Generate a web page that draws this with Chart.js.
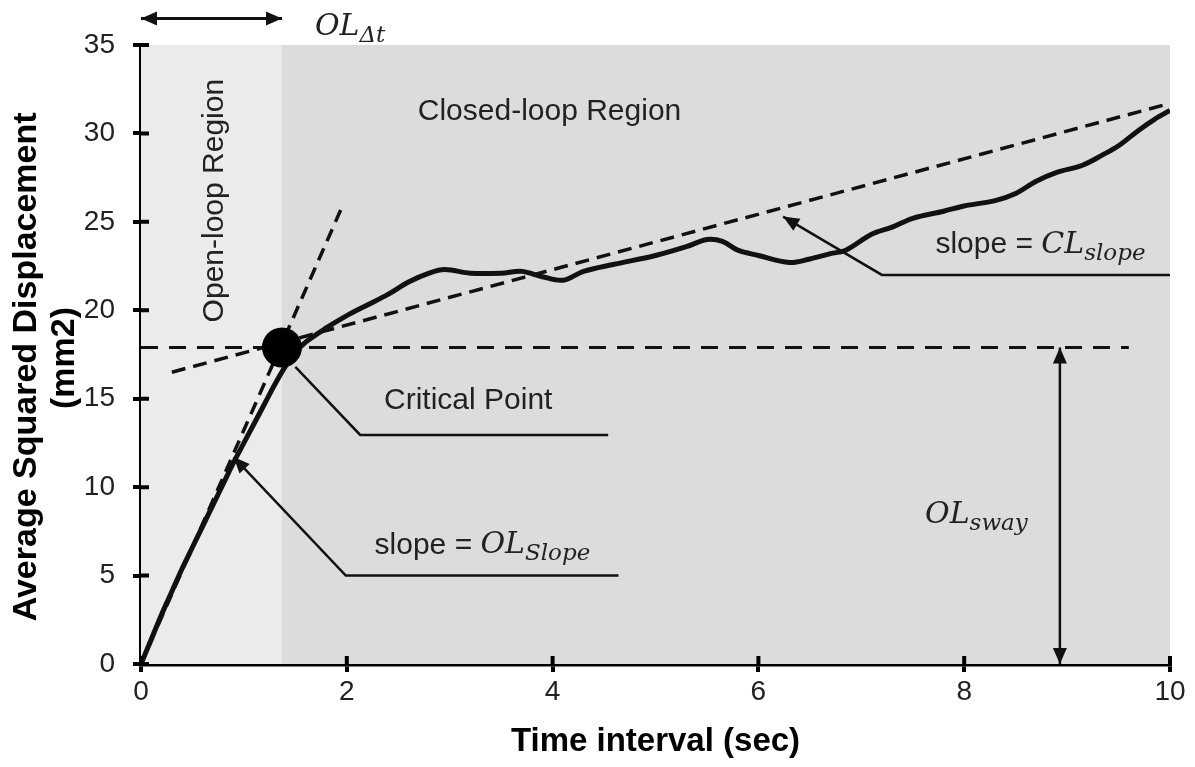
<!DOCTYPE html>
<html>
<head>
<meta charset="utf-8">
<script src="https://cdn.jsdelivr.net/npm/chart.js@4.4.1/dist/chart.umd.min.js"></script>
<style>
  html, body { margin: 0; padding: 0; background: #fff; }
</style>
</head>
<body>
<canvas id="msd-chart" width="1195" height="767"></canvas>
<script>
// average squared displacement curve
const timeSec = [0, 0.1, 0.2, 0.3, 0.4, 0.5, 0.6, 0.7, 0.8, 0.9, 1.0, 1.1, 1.2, 1.3, 1.4, 1.5, 1.6, 1.8,
  2.0, 2.2, 2.4, 2.6, 2.8, 2.95, 3.2, 3.5, 3.7, 3.9, 4.1, 4.3, 4.6, 5.0, 5.3, 5.5, 5.65, 5.8, 6.0, 6.3,
  6.5, 6.7, 6.85, 7.1, 7.3, 7.5, 7.8, 8.0, 8.3, 8.5, 8.7, 8.9, 9.15, 9.35, 9.5, 9.7, 9.85, 10];
const msdValues = [0, 1.4, 2.8, 4.1, 5.4, 6.6, 7.8, 9.0, 10.2, 11.4, 12.5, 13.6, 14.7, 15.8, 16.8, 17.6, 18.2, 19.0,
  19.7, 20.3, 20.9, 21.6, 22.1, 22.3, 22.1, 22.1, 22.2, 21.9, 21.7, 22.2, 22.6, 23.1, 23.6, 24.0, 23.9, 23.4, 23.1, 22.7,
  22.9, 23.2, 23.4, 24.3, 24.7, 25.2, 25.6, 25.9, 26.2, 26.6, 27.3, 27.8, 28.2, 28.8, 29.3, 30.2, 30.8, 31.3];

const xTicks = [0, 2, 4, 6, 8, 10];
const yTicks = [0, 5, 10, 15, 20, 25, 30, 35];

// fitted lines and the critical point
const olSlopeX = [0, 1.95];
const olSlopeY = [0, 25.8];
const clSlopeX = [0.3, 10];
const clSlopeY = [16.5, 31.7];
const swayLevelX = [0, 9.6];
const swayLevelY = [17.9, 17.9];
const criticalX = [1.37];
const criticalY = [17.9];
const openLoopEnd = 1.37;

// leader lines / arrows
const criticalLeaderX = [1.5, 2.13, 4.54];
const criticalLeaderY = [16.8, 12.95, 12.95];
const olLeaderX = [0.9, 1.99, 4.64];
const olLeaderY = [11.7, 5.0, 5.0];
const clLeaderX = [6.24, 7.2, 10];
const clLeaderY = [25.3, 22.0, 22.0];
const swayArrowX = [8.93, 8.93];
const swayArrowY = [0, 17.9];
const dtArrowX = [0, 1.37];
const dtArrowY = [36.5, 36.5];

const pts = (xs, ys) => xs.map((x, i) => ({ x: x, y: ys[i] }));

const INK = "#111";
const TEXT = "#222";
const SANS = "'Liberation Sans', Arial, sans-serif";
const SERIF = "'DejaVu Serif', serif";

function lineSet(xs, ys, width, dash, extra) {
  return Object.assign({
    data: pts(xs, ys),
    showLine: true,
    borderColor: INK,
    borderWidth: width,
    borderDash: dash || [],
    pointRadius: 0,
    fill: false,
    tension: 0,
  }, extra || {});
}

// gray region backgrounds
const regionPlugin = {
  id: "regions",
  beforeDatasetsDraw(chart) {
    const { ctx, scales: { x, y } } = chart;
    const top = y.getPixelForValue(35), bottom = y.getPixelForValue(0);
    const x0 = x.getPixelForValue(0), x1 = x.getPixelForValue(openLoopEnd), x2 = x.getPixelForValue(10);
    ctx.save();
    ctx.fillStyle = "#ebebeb";
    ctx.fillRect(x0, top, x1 - x0, bottom - top);
    ctx.fillStyle = "#dcdcdc";
    ctx.fillRect(x1, top, x2 - x1, bottom - top);
    ctx.restore();
  },
};

// inner half of the tick marks
const innerTicks = {
  id: "innerTicks",
  afterDraw(chart) {
    const { ctx, scales: { x, y } } = chart;
    ctx.save();
    ctx.strokeStyle = "#000";
    ctx.lineWidth = 4;
    ctx.beginPath();
    xTicks.forEach((v) => {
      const px = x.getPixelForValue(v);
      ctx.moveTo(px, y.bottom);
      ctx.lineTo(px, y.bottom - 8);
    });
    yTicks.forEach((v) => {
      const py = y.getPixelForValue(v);
      ctx.moveTo(x.left, py);
      ctx.lineTo(x.left + 8, py);
    });
    ctx.stroke();
    ctx.restore();
  },
};

function arrowHead(ctx, tip, from) {
  const ang = Math.atan2(tip.y - from.y, tip.x - from.x);
  const len = 16, half = 7;
  ctx.beginPath();
  ctx.moveTo(tip.x, tip.y);
  ctx.lineTo(tip.x - len * Math.cos(ang) + half * Math.sin(ang), tip.y - len * Math.sin(ang) - half * Math.cos(ang));
  ctx.lineTo(tip.x - len * Math.cos(ang) - half * Math.sin(ang), tip.y - len * Math.sin(ang) + half * Math.cos(ang));
  ctx.closePath();
  ctx.fill();
}

const arrowPlugin = {
  id: "arrows",
  afterDatasetsDraw(chart) {
    const ctx = chart.ctx;
    ctx.save();
    ctx.fillStyle = INK;
    chart.data.datasets.forEach((ds, i) => {
      if (!ds.arrows) return;
      const el = chart.getDatasetMeta(i).data;
      if (ds.arrows.includes("start")) arrowHead(ctx, el[0], el[1]);
      if (ds.arrows.includes("end")) arrowHead(ctx, el[el.length - 1], el[el.length - 2]);
    });
    ctx.restore();
  },
};

function mathText(ctx, px, py, main, sub) {
  ctx.font = "italic 30px " + SERIF;
  ctx.fillText(main, px, py);
  const w = ctx.measureText(main).width;
  ctx.font = "italic 23px " + SERIF;
  ctx.fillText(sub, px + w, py + 9);
}

const labelPlugin = {
  id: "labels",
  afterDatasetsDraw(chart) {
    const { ctx, scales: { x, y } } = chart;
    const X = (v) => x.getPixelForValue(v), Y = (v) => y.getPixelForValue(v);
    ctx.save();
    ctx.fillStyle = TEXT;
    ctx.textBaseline = "middle";
    ctx.font = "30px " + SANS;

    ctx.textAlign = "center";
    ctx.fillText("Closed-loop Region", X(3.97), Y(31.2));
    ctx.fillText("Critical Point", X(3.18), Y(14.9));

    ctx.save();
    ctx.translate(X(0.72), Y(26.2));
    ctx.rotate(-Math.PI / 2);
    ctx.fillText("Open-loop Region", 0, 0);
    ctx.restore();

    ctx.textAlign = "left";
    ctx.font = "30px " + SANS;
    ctx.fillText("slope = ", X(2.27), Y(6.7));
    let w = ctx.measureText("slope = ").width;
    mathText(ctx, X(2.27) + w, Y(6.7), "OL", "Slope");

    ctx.font = "30px " + SANS;
    ctx.fillText("slope = ", X(7.72), Y(23.7));
    w = ctx.measureText("slope = ").width;
    mathText(ctx, X(7.72) + w, Y(23.7), "CL", "slope");

    mathText(ctx, X(7.62), Y(8.4), "OL", "sway");
    mathText(ctx, X(1.69), Y(36.0), "OL", "\u0394t");
    ctx.restore();
  },
};

// y axis title: two lines, each centred on its own position as in the figure
const yTitlePlugin = {
  id: "yTitle",
  afterDraw(chart) {
    const { ctx, scales: { y } } = chart;
    ctx.save();
    ctx.fillStyle = "#000";
    ctx.font = "bold 34px " + SANS;
    ctx.textAlign = "center";
    ctx.textBaseline = "middle";
    ctx.translate(27, y.getPixelForValue(16.8));
    ctx.rotate(-Math.PI / 2);
    ctx.fillText("Average Squared Displacement", 0, 0);
    ctx.restore();
    ctx.save();
    ctx.fillStyle = "#000";
    ctx.font = "bold 34px " + SANS;
    ctx.textAlign = "center";
    ctx.textBaseline = "middle";
    ctx.translate(65, y.getPixelForValue(17.3));
    ctx.rotate(-Math.PI / 2);
    ctx.fillText("(mm2)", 0, 0);
    ctx.restore();
  },
};

new Chart(document.getElementById("msd-chart"), {
  type: "scatter",
  data: {
    datasets: [
      lineSet(criticalX, criticalY, 0, null, { showLine: false, pointRadius: 20, pointBackgroundColor: "#000", pointBorderWidth: 0 }),
      lineSet(timeSec, msdValues, 5, null, { tension: 0.35 }),
      lineSet(olSlopeX, olSlopeY, 3.5, [13, 8]),
      lineSet(clSlopeX, clSlopeY, 3.5, [14, 8]),
      lineSet(swayLevelX, swayLevelY, 3, [17, 11]),
      lineSet(criticalLeaderX, criticalLeaderY, 2.5),
      lineSet(olLeaderX, olLeaderY, 2.5, null, { arrows: ["start"] }),
      lineSet(clLeaderX, clLeaderY, 2.5, null, { arrows: ["start"] }),
      lineSet(swayArrowX, swayArrowY, 2.5, null, { arrows: ["start", "end"] }),
      lineSet(dtArrowX, dtArrowY, 3, null, { arrows: ["start", "end"], clip: false }),
    ],
  },
  options: {
    responsive: false,
    animation: false,
    layout: { padding: { top: 45, right: 25, bottom: 3, left: 0 } },
    plugins: {
      legend: { display: false },
      tooltip: { enabled: false },
    },
    scales: {
      x: {
        type: "linear",
        min: 0,
        max: 10,
        afterFit: (s) => { s.height = 100; },
        afterBuildTicks: (s) => { s.ticks = xTicks.map((v) => ({ value: v })); },
        ticks: { color: TEXT, font: { family: SANS, size: 28 }, padding: 3, maxRotation: 0 },
        grid: { drawOnChartArea: false, color: "#000", lineWidth: 4, tickLength: 8 },
        border: { color: "#000", width: 4.5 },
        title: {
          display: true,
          text: "Time interval (sec)",
          color: "#000",
          font: { family: SANS, size: 33, weight: "bold" },
          padding: { top: 0, bottom: 2 },
        },
      },
      y: {
        type: "linear",
        min: 0,
        max: 35,
        afterFit: (s) => { s.width = 141; },
        afterBuildTicks: (s) => { s.ticks = yTicks.map((v) => ({ value: v })); },
        ticks: { color: TEXT, font: { family: SANS, size: 28 }, padding: 18 },
        grid: { drawOnChartArea: false, color: "#000", lineWidth: 4, tickLength: 8 },
        border: { color: "#000", width: 4.5 },
        title: { display: false },
      },
    },
  },
  plugins: [regionPlugin, arrowPlugin, labelPlugin, innerTicks, yTitlePlugin],
});
</script>
</body>
</html>
